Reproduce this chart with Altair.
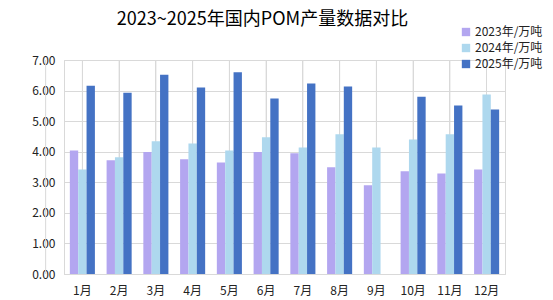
import altair as alt
import pandas as pd

months = ["1月", "2月", "3月", "4月", "5月", "6月", "7月", "8月", "9月", "10月", "11月", "12月"]
series = ["2023年/万吨", "2024年/万吨", "2025年/万吨"]
v2023 = [4.04, 3.72, 3.99, 3.75, 3.65, 3.99, 3.95, 3.49, 2.90, 3.36, 3.29, 3.42]
v2024 = [3.42, 3.82, 4.34, 4.27, 4.04, 4.47, 4.14, 4.57, 4.14, 4.40, 4.57, 5.87]
v2025 = [6.16, 5.93, 6.52, 6.10, 6.60, 5.74, 6.23, 6.13, None, 5.80, 5.51, 5.38]
colors = ["#B3A6F0", "#AED8EE", "#4472C4"]

rows = []
for name, vals in zip(series, [v2023, v2024, v2025]):
    for m, v in zip(months, vals):
        if v is not None:
            rows.append({"month": m, "series": name, "value": v})
df = pd.DataFrame(rows)
mdf = pd.DataFrame({"month": months})

FONT = "Noto Sans CJK SC"
W, H = 441, 214
HALF = W / len(months) / 2

xscale = alt.Scale(domain=months, paddingInner=0, paddingOuter=0)

xaxis = alt.Axis(title=None, labelAngle=0, grid=True, gridColor="#d9d9d9",
                 ticks=False, domainColor="#d9d9d9",
                 labelFont=FONT, labelFontSize=12, labelColor="#222222",
                 labelPadding=11)

bounds = alt.Chart(mdf).mark_rule(color="#d9d9d9", strokeWidth=1).encode(
    x=alt.X("month:N", scale=xscale, sort=months, axis=xaxis),
    xOffset=alt.value(-HALF),
    y=alt.value(0),
    y2=alt.value(H),
)

bars = alt.Chart(df).mark_bar().encode(
    x=alt.X("month:N", scale=xscale, sort=months, axis=xaxis),
    xOffset=alt.XOffset("series:N", sort=series,
                        scale=alt.Scale(domain=series, paddingInner=0, paddingOuter=0.7)),
    y=alt.Y("value:Q", scale=alt.Scale(domain=[0, 7], nice=False),
            axis=alt.Axis(title=None, values=[0, 1, 2, 3, 4, 5, 6, 7], format=".2f",
                          gridColor="#d9d9d9", ticks=False, domainColor="#d9d9d9",
                          labelFont=FONT, labelFontSize=12, labelColor="#222222",
                          labelPadding=9)),
    color=alt.Color("series:N", sort=series,
                    scale=alt.Scale(domain=series, range=colors),
                    legend=alt.Legend(title=None, orient="none", legendX=396, legendY=-34,
                                      symbolType="square", symbolSize=70,
                                      symbolStrokeWidth=0, labelFont=FONT,
                                      labelFontSize=12, labelColor="#222222",
                                      rowPadding=4, labelOffset=3)),
)

chart = alt.layer(bounds, bars).properties(
    width=W, height=H,
    title=alt.TitleParams("2023~2025年国内POM产量数据对比", font=FONT, fontSize=18,
                          fontWeight="normal", color="#000000", anchor="middle",
                          dx=-22, offset=-3),
    autosize=alt.AutoSizeParams(type="none"),
    padding={"left": 64, "top": 60, "right": 48, "bottom": 26},
).configure_view(stroke="#d9d9d9")

chart.save("out.html", embed_options={"renderer": "svg", "actions": False})
